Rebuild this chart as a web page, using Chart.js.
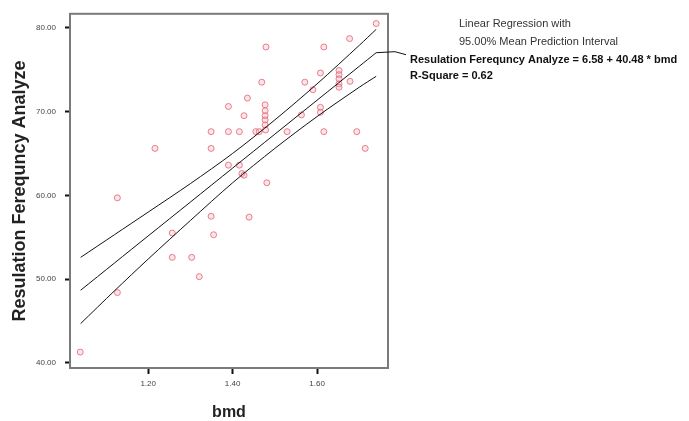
<!DOCTYPE html>
<html><head><meta charset="utf-8">
<script src="https://cdn.jsdelivr.net/npm/chart.js@4.4.1/dist/chart.umd.min.js"></script>
<style>html,body{margin:0;padding:0;background:#fff}#wrap{width:689px;height:421px;position:relative}</style>
</head><body><div id="wrap"><canvas id="c" width="689" height="421"></canvas></div>
<script>
// bmd values and Resulation Ferequncy Analyze values
const bmd = [1.039,1.127,1.127,1.216,1.257,1.257,1.303,1.321,1.349,1.349,1.349,1.355,
  1.390,1.390,1.390,1.416,1.416,1.422,1.427,1.427,1.435,1.439,1.455,1.463,1.469,
  1.477,1.477,1.477,1.477,1.477,1.478,1.479,1.481,1.529,1.563,1.571,1.590,1.608,
  1.608,1.608,1.616,1.616,1.652,1.652,1.652,1.652,1.652,1.677,1.678,1.694,1.714,1.740];
const rfa = [41.3,59.7,48.4,65.6,55.5,52.6,52.6,50.3,67.6,65.6,57.5,55.3,
  70.6,67.6,63.6,67.6,63.6,62.6,62.4,69.5,71.6,57.4,67.6,67.6,73.5,
  70.8,70.1,69.5,69.0,68.4,67.8,77.7,61.5,67.6,69.6,73.5,72.6,74.6,
  70.5,69.9,77.7,67.6,74.9,74.4,73.9,73.3,72.9,78.7,73.6,67.6,65.6,80.5];
// fit line and 95% mean interval bands
const fitX  = [1.04,1.12,1.20,1.30,1.40,1.50,1.60,1.70,1.74];
const fitY  = [48.68,51.92,55.16,59.20,63.25,67.30,71.35,75.40,77.02];
const upper = [52.6,55.3,58.0,61.4,65.0,69.0,73.3,77.9,79.8];
const lower = [44.7,48.6,52.4,57.0,61.5,65.6,69.4,72.9,74.2];
const xTicks = [1.20,1.40,1.60];
const yTicks = [40,50,60,70,80];
const annoLines = ["Linear Regression with","95.00% Mean Prediction Interval"];
const eqLines = ["Resulation Ferequncy Analyze = 6.58 + 40.48 * bmd","R-Square = 0.62"];

const pts = bmd.map((x,i)=>({x, y: rfa[i]}));
const mk = arr => fitX.map((x,i)=>({x, y: arr[i]}));

const frame = {
  id:'frame',
  afterDraw(chart){
    const {ctx, chartArea:a, scales:{x, y}} = chart;
    ctx.save();
    ctx.strokeStyle = '#7a7a7a'; ctx.lineWidth = 2;
    ctx.strokeRect(a.left, a.top, a.right-a.left, a.bottom-a.top);
    const n = fitX.length-1;
    const px = x.getPixelForValue(fitX[n]), py = y.getPixelForValue(fitY[n]);
    ctx.strokeStyle = '#111'; ctx.lineWidth = 1;
    ctx.beginPath(); ctx.moveTo(px, py); ctx.lineTo(395, py-1); ctx.lineTo(406, py+2); ctx.stroke();
    ctx.fillStyle = '#333'; ctx.textBaseline = 'middle'; ctx.textAlign = 'left';
    ctx.font = '11px "Liberation Sans", Arial, sans-serif';
    ctx.fillText(annoLines[0], 459, 24);
    ctx.fillText(annoLines[1], 459, 41.5);
    ctx.fillStyle = '#111';
    ctx.font = 'bold 11px "Liberation Sans", Arial, sans-serif';
    ctx.fillText(eqLines[0], 410, 60);
    ctx.fillText(eqLines[1], 410, 75.5);
    ctx.restore();
  }
};

const lineDs = (data) => ({type:'line', data, borderColor:'#111', borderWidth:1, pointRadius:0, fill:false, tension:0.3, order:1});

new Chart(document.getElementById('c'), {
  type:'scatter',
  data:{datasets:[
    {data: pts, pointStyle:'circle', pointRadius:3, borderWidth:1,
     borderColor:'rgba(226,90,110,0.75)', backgroundColor:'rgba(245,180,190,0.35)', order:2},
    lineDs(mk(fitY)), lineDs(mk(upper)), lineDs(mk(lower))
  ]},
  options:{
    responsive:false, animation:false,
    layout:{padding:{left:0, right:301, top:11, bottom:0}},
    plugins:{legend:{display:false}, tooltip:{enabled:false}},
    scales:{
      x:{type:'linear', min:1.0148, max:1.768,
        afterFit(s){ s.height = 53; },
        afterBuildTicks(s){ s.ticks = xTicks.map(v=>({value:v})); },
        border:{display:false},
        grid:{drawOnChartArea:false, drawTicks:true, tickLength:6, tickWidth:2, tickColor:'#111', color:'#111'},
        ticks:{padding:5, color:'#444', font:{size:8, family:'"Liberation Sans", Arial, sans-serif'}, callback:v=>Number(v).toFixed(2)},
        title:{display:true, text:'bmd', color:'#222', padding:{top:0,bottom:0},
          font:{size:16, weight:'bold', lineHeight:1, family:'"Liberation Sans", Arial, sans-serif'}}
      },
      y:{type:'linear', min:39.4, max:81.66,
        afterFit(s){ s.width = 70; },
        afterBuildTicks(s){ s.ticks = yTicks.map(v=>({value:v})); },
        border:{display:false},
        grid:{drawOnChartArea:false, drawTicks:true, tickLength:5, tickWidth:2, tickColor:'#111', color:'#111'},
        ticks:{padding:9, color:'#444', font:{size:8, family:'"Liberation Sans", Arial, sans-serif'}, callback:v=>Number(v).toFixed(2)},
        title:{display:true, text:'Resulation Ferequncy Analyze', color:'#222', padding:{top:11,bottom:0},
          font:{size:18, weight:'bold', lineHeight:1, family:'"Liberation Sans", Arial, sans-serif'}}
      }
    }
  },
  plugins:[frame]
});
</script></body></html>
